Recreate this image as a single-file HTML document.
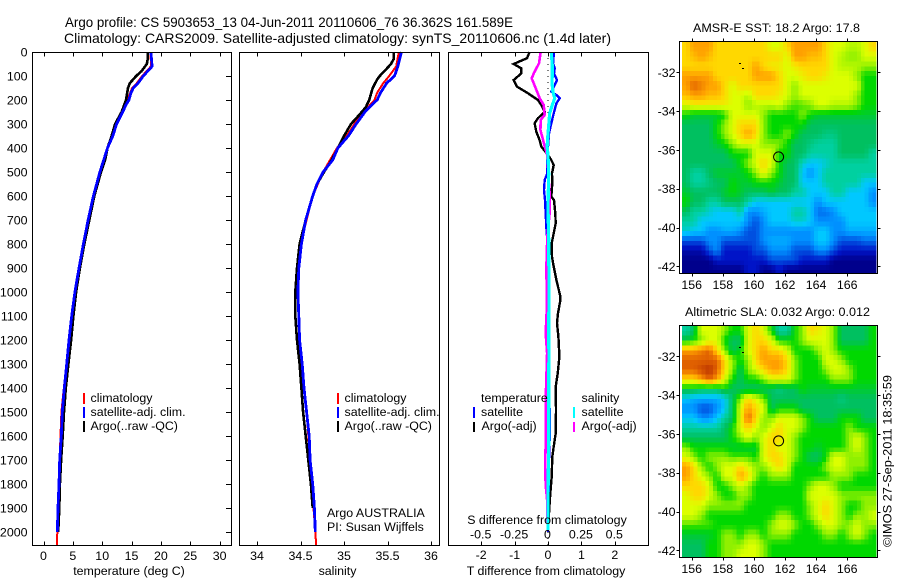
<!DOCTYPE html>
<html lang="en">
<head>
<meta charset="utf-8">
<title>Argo profile</title>
<style>
html,body{margin:0;padding:0;background:#fff;}
svg{display:block;}
text{font-family:"Liberation Sans",sans-serif;font-size:12.4px;fill:#000;}
.title{font-size:14px;}
</style>
</head>
<body>
<svg id="chart" xmlns="http://www.w3.org/2000/svg" width="900" height="580" viewBox="0 0 900 580">
<rect x="0" y="0" width="900" height="580" fill="#fff"/>
<text class="title" x="65" y="27" textLength="448" lengthAdjust="spacingAndGlyphs">Argo profile: CS 5903653_13 04-Jun-2011 20110606_76 36.362S 161.589E</text>
<text class="title" x="64" y="43" textLength="547" lengthAdjust="spacingAndGlyphs">Climatology: CARS2009. Satellite-adjusted climatology: synTS_20110606.nc (1.4d later)</text>

<g id="p1"></g>
<g id="p2"></g>
<g id="p3"></g>
<g id="m1"></g>
<g id="m2"></g>

<text x="129" y="575" text-anchor="middle">temperature (deg C)</text>
<text x="337.5" y="575" text-anchor="middle">salinity</text>
<text x="547" y="524" text-anchor="middle">S difference from climatology</text>
<text x="546" y="575" text-anchor="middle">T difference from climatology</text>

<g>
<rect x="83" y="393" width="2" height="11" fill="#f00"/>
<text x="90.5" y="402">climatology</text>
<rect x="83" y="407" width="2" height="11" fill="#00f"/>
<text x="90.5" y="416">satellite-adj. clim.</text>
<rect x="83" y="421" width="2" height="11" fill="#000"/>
<text x="90.5" y="430">Argo(..raw -QC)</text>
</g>
<g>
<rect x="337" y="393" width="2" height="11" fill="#f00"/>
<text x="344.5" y="402">climatology</text>
<rect x="337" y="407" width="2" height="11" fill="#00f"/>
<text x="344.5" y="416">satellite-adj. clim.</text>
<rect x="337" y="421" width="2" height="11" fill="#000"/>
<text x="344.5" y="430">Argo(..raw -QC)</text>
</g>
<text x="327" y="517">Argo AUSTRALIA</text>
<text x="327" y="531">PI: Susan Wijffels</text>

<g>
<text x="481" y="402">temperature</text>
<rect x="473" y="407" width="2" height="11" fill="#00f"/>
<text x="481" y="416">satellite</text>
<rect x="473" y="422" width="2" height="10" fill="#000"/>
<text x="481.5" y="430">Argo(-adj)</text>
<text x="581.5" y="402">salinity</text>
<rect x="573" y="407" width="2" height="11" fill="#0ff"/>
<text x="581.5" y="416">satellite</text>
<rect x="573" y="422" width="2" height="10" fill="#f0f"/>
<text x="581.5" y="430">Argo(-adj)</text>
</g>

<text x="693" y="32" textLength="167" lengthAdjust="spacingAndGlyphs">AMSR-E SST: 18.2 Argo: 17.8</text>
<text x="685" y="316" textLength="185" lengthAdjust="spacingAndGlyphs">Altimetric SLA: 0.032 Argo: 0.012</text>
<text transform="translate(891.5,547) rotate(-90)" textLength="172" lengthAdjust="spacingAndGlyphs">©IMOS 27-Sep-2011 18:35:59</text>
</svg>

<script>
// ---- axis tick labels ----
const depthTicks = [0,100,200,300,400,500,600,700,800,900,1000,1100,1200,1300,1400,1500,1600,1700,1800,1900,2000];
const tempTicks = [0,5,10,15,20,25,30];
const salinityTicks = [34,34.5,35,35.5,36];
const tDiffTicks = [-2,-1,0,1,2];
const sDiffTicks = [-0.5,-0.25,0,0.25,0.5];
const lonTicks = [156,158,160,162,164,166];
const latTicks = [32,34,36,38,40,42];

// ---- temperature profiles ----
const climTempDepth = [0,60,100,130,150,200,250,300,400,500,600,700,800,900,1000,1100,1200,1300,1450,1500,1600,1700,1800,1900,2000,2055];
const climTemp = [18.25,18.3,16.8,15.9,15.1,14.3,13.4,12.4,10.9,9.6,8.45,7.55,6.75,6,5.3,4.75,4.3,3.9,3.25,3.05,2.9,2.75,2.6,2.45,2.35,2.3];
const satTempDepth = [0,60,100,130,150,170,200,220,250,300,350,400,500,600,700,800,900,1000,1100,1200,1300,1400,1500,1600,1700,1800,1900,2000];
const satTemp = [18.3,18.5,17,16.1,15.3,14.9,14.55,14.05,13.5,12.45,11.8,10.9,9.6,8.5,7.6,6.8,6.05,5.35,4.8,4.35,3.95,3.55,3.2,3.03,2.76,2.64,2.47,2.35];
const argoTempDepth = [0,30,50,80,100,130,150,200,250,300,350,400,450,500,600,700,800,900,1000,1100,1200,1300,1400,1500,1600,1700,1800,1900,2000];
const argoTemp = [17.8,17.75,17.6,16.7,15.8,14.7,14.4,14.05,13.3,12.2,11.6,10.9,10.5,9.8,8.65,7.8,6.95,6.2,5.55,5.1,4.7,4.25,3.8,3.5,3.27,3,2.8,2.7,2.5];

// ---- salinity profiles ----
const climSalDepth = [0,60,100,130,170,200,220,250,300,350,400,500,600,700,800,900,1000,1100,1200,1300,1500,1700,1900,2000,2055];
const climSal = [35.63,35.6,35.52,35.45,35.38,35.35,35.3,35.22,35.12,35.03,34.92,34.76,34.64,34.57,34.5,34.48,34.47,34.48,34.49,34.52,34.57,34.61,34.65,34.67,34.68];
const satSalDepth = [0,60,100,130,170,200,220,250,300,350,400,450,500,550,600,700,800,900,1000,1100,1200,1300,1400,1500,1600,1700,1800,1900,2000];
const satSal = [35.66,35.62,35.58,35.49,35.42,35.38,35.32,35.24,35.14,35.05,34.93,34.87,34.76,34.69,34.64,34.56,34.51,34.48,34.47,34.48,34.49,34.52,34.54,34.57,34.6,34.61,34.64,34.66,34.67];
const argoSalDepth = [0,30,50,70,100,115,150,200,230,260,300,350,400,450,500,550,600,700,800,900,1000,1100,1200,1300,1400,1500,1600,1700,1800,1900];
const argoSal = [35.57,35.57,35.54,35.49,35.41,35.38,35.33,35.29,35.25,35.18,35.08,35,34.93,34.86,34.77,34.69,34.64,34.56,34.49,34.46,34.44,34.44,34.46,34.49,34.51,34.53,34.56,34.59,34.62,34.64];

// ---- difference profiles ----
const tDiffArgoDepth = [0,26,50,68,89,117,144,172,200,221,249,276,297,332,367,394,429,450,471,506,547,603,617,672,714,756,797,853,894,950,1019,1033,1089,1130,1186,1269,1339,1394,1491,1589,1644,1686,1769,1839,1922,1977];
const tDiffArgo = [-0.55,-0.63,-1.03,-0.8,-0.8,-1.03,-0.93,-0.6,-0.3,-0.2,-0.1,-0.3,-0.4,-0.35,-0.25,-0.2,0,0.1,0.17,0.12,0.13,0.1,0.18,0.22,0.23,0.17,0.11,0.12,0.17,0.25,0.37,0.37,0.3,0.27,0.31,0.34,0.29,0.23,0.24,0.23,0.17,0.13,0.11,0.07,0.03,0];
const tDiffSatDepth = [0,47,68,89,117,138,165,179,193,214,256,297,339,394,429,506,533,575,617,672,728,783,1033,1280,1600,1700,2000];
const tDiffSat = [0.18,0.15,0.2,0.18,0.27,0.2,0.1,0.25,0.35,0.25,0.17,0.1,0.03,0,-0.02,-0.02,-0.1,-0.12,-0.09,-0.07,-0.05,-0.02,0.02,0.04,0.05,0.03,0];
const sDiffArgoDepth = [0,47,68,89,110,130,158,193,221,262,283,325,367,394,429,478,533,589,672,769,894,1061,1172,1255,1450,1630,1734,1804,1866,1950,1992];
const sDiffArgo = [-0.055,-0.067,-0.087,-0.107,-0.122,-0.107,-0.087,-0.062,-0.032,-0.025,-0.055,-0.057,-0.037,-0.025,-0.005,0,0.005,0.012,0.012,-0.005,-0.012,-0.008,-0.017,-0.007,-0.017,-0.017,-0.022,-0.017,-0.007,-0.005,0];
const sDiffSatDepth = [0,60,89,130,165,193,221,256,297,339,394,429,506,644,783,922,1061,1172,1255,1450,1630,1755,1866,1992];
const sDiffSat = [0.025,0.032,0.032,0.03,0.037,0.05,0.032,0.012,0.007,0,-0.007,0,0.005,0,0.005,0.007,0.007,0.005,0.007,0.005,0.005,0.002,0,0];
const zeroLineDepth = [0,2055];
const zeroLineDiff = [0,0];

// ---- SST map, colour level per cell (0 navy .. 13 red-brown) ----
const sstLevels = [
[10,11,11,11,10,10,10,10,10,10,10,9,9,10,11,11,11,11,10,9,9,8.5,8.5,9,10],
[10,10.5,11,10.5,10,10,10,10,10,10,10,10,10,9,11,11,10.5,10.5,10,9,8.5,8,8,9,9],
[10,10,10,10,10,10,10,10,10,11,10,9.5,9.5,9,9.5,10,10,10,10,9,8.5,8.5,8.5,8,8],
[11,11,11,11,10,10,10,10,10,11,11,11,10,9,9,9.5,10,10,9.5,9,9,9,8,7,7],
[11,12,11.5,11,11,10,9,10,10,10,10,10,10,9,8,9,9,9,9,9,9,9,9,7,7],
[10.5,11,11,10.5,10.5,10,9,9,8.5,10,10,10,9.5,9,8,9,9,9,9,9,9,9,8,7,7],
[9,9.5,9.5,9.5,9.5,9.5,9,9,8,8.5,8.5,8.5,9,8,7.5,7.5,8,9,9,8.5,8.5,8.5,8,7,7],
[7,6.5,6.5,6.5,6.5,7,9,9,9,9,8,7,7,7,7,8,7,6.5,6.5,6.5,6.5,6.5,6.5,6.5,6.5],
[6,6,6,6,7,8,9,10,10,10,8,7,7,7,7,7,6,6,6,6,6,6,6,6,6],
[6,6,6,6,7,8,9,10,11,10,8,7,7,8,7,6,6,6,5.5,5.5,6,6,6,6,6],
[6,6,6,6,6.5,7,8,9,9,9,8,8,8,7,6,6,5.5,5,5,5,6,6,6,6,6],
[6,6,6,6,6,6,7,7,7,9,9,9,7,7,6,6,5,5,5,5,6,6,6,6,5],
[6,6,6,6,6,6,6,7,8,9,10,9,7,6,6,4.5,4,4,4.5,5,5,5,5,5,5],
[6,5,5,6,6.5,6.5,6.5,6.5,7,8,9.5,8,7,6,6,4,3,4,5,5,5,5,5,5,5],
[6,5,5,5.5,6,6,7,6.5,6.5,7,7,7,6.5,6,6,4,4,4,5,5,5,5,5,4,4],
[6.5,6,6,6,6,6.5,7,6.5,6,6,6,6.5,6,6,5,5,4,4,4,5,5,4,4,4,3],
[7,6,6,5,5,6,6,6,5,4,4,4,4,4,4,4,4,3,4,4,4,4,4,4,3],
[6,5,5,4.5,4,4,4,5,3,3,3.5,4,4,4,5,5,4,2.5,2.5,3,4,4,4,4,4],
[5,5,4,4,4,4,4,4,3,2,3,4,4,4,4.5,4.5,4,3,3,3,3,4,4,4,4],
[4.5,4,4,3,3,3.5,3.5,3,2,2,3,3,3,3,3,3,3,4,4,3,3,3.5,3.5,3.5,3.5],
[2,2,2,3,3,2,2,2,2,2,3,3.5,3.5,3.5,3,3,3,4,4,3,2,2,2,2.5,2.5],
[0.5,0.5,0.5,2,3,1,1,1,1,2,2,3,3,3,2,2,2,3,3,2,1,1,1,1,1],
[0,0,0,0,1,1,1,1,1,1,1,2,2,2,2,1,1,1,1,0,0,0,0,0,0],
[0,0,0,0,0,0,0,0,1,1,0,0,1,0,0,0,0,0,0,0,0,0,0,0,0]
];

// ---- SLA map, colour level per cell ----
const slaLevels = [
[5,6,9,9,9,8,7,7,9,10,9,7,5,5,7,8,10,9.5,9,8,6,6,6,6,7],
[6.5,7,8,9,9,7,6,6,9,10,10,9,7,7,7,8,9,9,9,8,6,6,6,6,7],
[11,11,11.5,12,10,8,6,7,9,10,11,10,10,9,7,7,7,8,9,8,7,7,7,7,7],
[12,12,12,12,12,10,8,7,8,10,11,11,11,10,8,7,7,7,9,9,8,7,7,7,7],
[12,12,12.5,13,12,10,8,6,8,9,10,11,11,10,8,7,7,7,8,9,9,8,7,7,7],
[10,10,11,12,11,9,7,6,7,7,8,9,9,9,8,7,7,7,7,8,8,8,7,7,7],
[6.5,6.5,6,6,6,7,6,6,6,6,6,6,5.5,6,6,7,6.5,6.5,6.5,6.5,6.5,6.5,6.5,6.5,6.5],
[4,3.5,3.5,3.5,3.5,4,6,8,10,9,8,6,6,6,6,6,6,6,6,6,5.5,6,6,6,6],
[3,3,2,2,3,4,6,9,11,10,9,6,7,7,7,6,6,6,6,6,6,6,6,6,6],
[4,4,3,3,4,5,6,9,12,10,8,8,9,9,9,8,7,6,6,6,7,7,7,6,6],
[5,5,5,5,5,6,7,9,10,9,8,9,10,9,9,8,7,7,7,7,7,8,7,7,7],
[6,6,6,6,6,6,7,8,9,8,9,10,10,9,8,7,7,7,7,7,7,8,9,8,7],
[8,7,7,7,7,7,6.5,6.5,6.5,6.5,9,10,9,9,8,7,7,6.5,7,7,7,8,9,8,7],
[9,8,7,8,8,8,7.5,7.5,7.5,7,9,10,10,9,8,7,6,6,7,9,9,8,8,8,7],
[11,10,8,7,8,9,9,10,9,8,8,9,10,9,7,7,7,7,8,9,9,8,8,8,7],
[11,10,9,8,7,9,9,11,10,8,7,8,8,8,7,7,7,7,7,8,8,8,7,7,7],
[10,10,10,9,7,7,8,9,8,7,7,7,7,7,7,7,8,9,9,8,7,7,7,7,7],
[9,10,10,9,8,7,7,8,8,7,7,7,7,7,7,7,9,9,9,9,8,8,8,8,8],
[9,9,9,8,8,8,8,8,7,7,7,7,7,7,7,7,8,9,10,9,8,7,7,8,8],
[9,9,8,7,7,7,7,7,7,7,7,7,8,8,7,7,8,9,10,9,8,7,8,8,9],
[7.5,7.5,7.5,7.5,7,7,7,7,7,7,7,8,9,9,8,7,7,8,9,9,8,8,9,8,8],
[6.5,6.5,6.5,6.5,7,8,8,7,8,8,7,8,8,8,7,7,7,7,8,8,7,8,9,8,7],
[6,6,6,7,7,8,8,8,9,9,8,7,7,7,7,7,7,7,7,7,7,7,7,7,7],
[6,6,6,7,7,8,8,9,9,9,8,7,7,7,7,7,7,7,7,7,7,7,7,7,7]
];

// float position and coast fragments (degrees E, degrees S)
const floatLon = [161.589];
const floatLat = [36.362];
const coastLon = [159.05,159.25];
const coastLat = [31.5,31.8];

// colour scale stops, one per level
const levelColors = [[0,0,140],[0,20,200],[0,80,224],[0,144,255],[0,200,255],[0,208,160],[0,192,96],[0,216,0],[144,240,0],[220,255,0],[255,216,0],[255,160,0],[224,96,0],[184,48,0]];

const NS = 'http://www.w3.org/2000/svg';
function svgEl(tag, attrs, parent) {
  const el = document.createElementNS(NS, tag);
  for (const k in attrs) el.setAttribute(k, attrs[k]);
  parent.appendChild(el);
  return el;
}
const depthY = d => 52 + 0.24 * d;
const tempX = t => 43.5 + 5.87 * t;
const salX = s => 257 + 87 * (s - 34);
const tDiffX = t => 548 + 33.4 * t;
const sDiffX = s => 548 + 133.6 * s;

function levelColor(v) {
  const lo = Math.max(0, Math.min(levelColors.length - 1, Math.floor(v)));
  const hi = Math.min(levelColors.length - 1, lo + 1);
  const f = Math.max(0, v - lo);
  const c = levelColors[lo].map((a, i) => Math.round(a + (levelColors[hi][i] - a) * f));
  return 'rgb(' + c.join(',') + ')';
}

function drawProfile(parent, name, depths, values, xFn, color, width, dash) {
  const pts = depths.map((d, i) => xFn(values[i]).toFixed(1) + ',' + depthY(d).toFixed(1)).join(' ');
  const attrs = {points: pts, fill: 'none', stroke: color, 'stroke-width': width, 'shape-rendering': 'crispEdges'};
  if (dash) attrs['stroke-dasharray'] = dash;
  const el = svgEl('polyline', attrs, parent);
  
  
}

function drawFrame(parent, x0, x1, y0, y1, name) {
  const el = svgEl('rect', {x: x0, y: y0, width: x1 - x0, height: y1 - y0, fill: 'none', stroke: '#000', 'stroke-width': 1, 'shape-rendering': 'crispEdges'}, parent);
  
  
}

function tickLine(parent, x1, y1, x2, y2) {
  const el = svgEl('line', {x1: x1, y1: y1, x2: x2, y2: y2, stroke: '#000', 'stroke-width': 1, 'shape-rendering': 'crispEdges'}, parent);
  
  
}

function tickText(parent, x, y, label, anchor) {
  const el = svgEl('text', {x: x, y: y, 'text-anchor': anchor}, parent);
  el.textContent = label;
  
  
}

function xTicks(parent, ticks, xFn, top, bottom, baseline, doTop) {
  ticks.forEach(t => {
    const x = Math.round(xFn(t)) + 0.5;
    if (doTop) tickLine(parent, x, top, x, top + 4);
    tickLine(parent, x, bottom, x, bottom - 4);
    tickText(parent, xFn(t), baseline, String(t), 'middle');
  });
}

// temperature panel
const p1 = document.getElementById('p1');
drawProfile(p1, 'climatology-temperature-line', climTempDepth, climTemp, tempX, '#f00', 2);
drawProfile(p1, 'argo-temperature-line', argoTempDepth, argoTemp, tempX, '#000', 2.6);
drawProfile(p1, 'satellite-temperature-line', satTempDepth, satTemp, tempX, '#00f', 2.8);
drawFrame(p1, 32.5, 231.5, 52.5, 545.5, 'temperature-panel-frame');
xTicks(p1, tempTicks, tempX, 52.5, 545.5, 560, true);
depthTicks.forEach(d => {
  const y = Math.round(depthY(d)) + 0.5;
  tickLine(p1, 226, y, 231, y);
  tickText(p1, 27.5, depthY(d) + 4.5, String(d), 'end');
});

// salinity panel
const p2 = document.getElementById('p2');
drawProfile(p2, 'climatology-salinity-line', climSalDepth, climSal, salX, '#f00', 2);
drawProfile(p2, 'argo-salinity-line', argoSalDepth, argoSal, salX, '#000', 2.6);
drawProfile(p2, 'satellite-salinity-line', satSalDepth, satSal, salX, '#00f', 2.8);
drawFrame(p2, 239.5, 439.5, 52.5, 545.5, 'salinity-panel-frame');
xTicks(p2, salinityTicks, salX, 52.5, 545.5, 560, true);

// difference panel
const p3 = document.getElementById('p3');
drawProfile(p3, 'zero-difference-line', zeroLineDepth, zeroLineDiff, tDiffX, '#000', 1, '1 5');
drawProfile(p3, 'argo-temperature-difference-line', tDiffArgoDepth, tDiffArgo, tDiffX, '#000', 2.4);
drawProfile(p3, 'satellite-temperature-difference-line', tDiffSatDepth, tDiffSat, tDiffX, '#00f', 2.4);
drawProfile(p3, 'argo-salinity-difference-line', sDiffArgoDepth, sDiffArgo, sDiffX, '#f0f', 2.6);
drawProfile(p3, 'satellite-salinity-difference-line', sDiffSatDepth, sDiffSat, sDiffX, '#0ff', 3.2);
drawFrame(p3, 448.5, 648.5, 52.5, 545.5, 'difference-panel-frame');
xTicks(p3, tDiffTicks, tDiffX, 52.5, 545.5, 559, true);
sDiffTicks.forEach(s => tickText(p3, sDiffX(s) - 0.5, 538.5, String(s), 'middle'));

// level read at a fractional position in the level table (reference grid is twice as fine)
function levelAt(levels, r, c) {
  const rows = levels.length, cols = levels[0].length;
  const r0 = Math.max(0, Math.min(rows - 1, Math.floor(r))), r1 = Math.min(rows - 1, r0 + 1);
  const c0 = Math.max(0, Math.min(cols - 1, Math.floor(c))), c1 = Math.min(cols - 1, c0 + 1);
  const fr = Math.max(0, Math.min(1, r - r0)), fc = Math.max(0, Math.min(1, c - c0));
  const top = levels[r0][c0] * (1 - fc) + levels[r0][c1] * fc;
  const bot = levels[r1][c0] * (1 - fc) + levels[r1][c1] * fc;
  return top * (1 - fr) + bot * fr;
}

// maps
function drawMap(parent, levels, name, lat32Y, frameTop, frameBottom, labelBase) {
  const lonX = lon => 691.7 + (lon - 156) * 15.55;
  const latY = lat => lat32Y + (lat - 32) * 19.4;
  const lonStart = 155.375, latStart = 32 - (lat32Y - (frameTop + 0.5)) / 19.4;
  const subRows = levels.length * 2, subCols = levels[0].length * 2;
  for (let r = 0; r < subRows; r++) {
    for (let c = 0; c < subCols; c++) {
      const v = levelAt(levels, (r + 0.5) / 2 - 0.5, (c + 0.5) / 2 - 0.5);
      const x0 = lonX(lonStart + c * 0.25), x1 = lonX(lonStart + (c + 1) * 0.25);
      const y0 = latY(latStart + r * 0.25), y1 = Math.min(latY(latStart + (r + 1) * 0.25), frameBottom);
      const cell = svgEl('rect', {x: x0.toFixed(2), y: y0.toFixed(2), width: (x1 - x0 + 0.3).toFixed(2), height: Math.max(0, y1 - y0 + 0.3).toFixed(2), fill: levelColor(v), 'shape-rendering': 'crispEdges'}, parent);
      
      
    }
  }
  coastLon.forEach((lon, i) => {
    const dot = svgEl('rect', {x: Math.round(lonX(lon)), y: Math.round(latY(coastLat[i])), width: 2, height: 1, fill: '#000', 'shape-rendering': 'crispEdges'}, parent);
    
    
  });
  floatLon.forEach((lon, i) => {
    const mark = svgEl('circle', {cx: lonX(lon).toFixed(1), cy: latY(floatLat[i]).toFixed(1), r: 5, fill: 'none', stroke: '#000', 'stroke-width': 1}, parent);
    
    
  });
  drawFrame(parent, 679.5, 877.5, frameTop, frameBottom, name + '-frame');
  lonTicks.forEach(lon => {
    const x = Math.round(lonX(lon)) + 0.5;
    tickLine(parent, x, frameTop - 3, x, frameTop);
    tickLine(parent, x, frameBottom, x, frameBottom + 3);
    tickText(parent, lonX(lon), labelBase, String(lon), 'middle');
  });
  latTicks.forEach(lat => {
    const y = Math.round(latY(lat)) + 0.5;
    tickLine(parent, 676.5, y, 679.5, y);
    tickLine(parent, 877.5, y, 880.5, y);
    tickText(parent, 675.5, latY(lat) + 4.5, '-' + lat, 'end');
  });
}
drawMap(document.getElementById('m1'), sstLevels, 'sst-map', 72.3, 41.5, 273.5, 289);
drawMap(document.getElementById('m2'), slaLevels, 'sla-map', 356.3, 325.5, 557.5, 573);
</script>
</body>
</html>
